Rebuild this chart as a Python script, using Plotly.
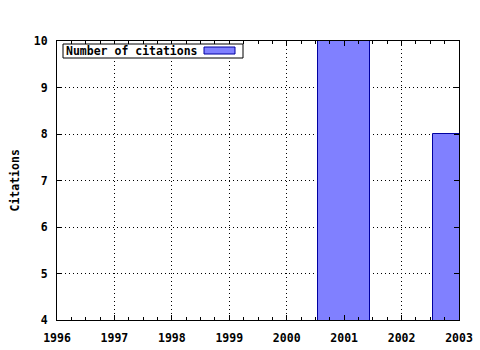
import plotly.graph_objects as go

years = [2001, 2003]
citations = [10, 8]
x_ticks = [1996, 1997, 1998, 1999, 2000, 2001, 2002, 2003]
y_ticks = [4, 5, 6, 7, 8, 9, 10]
series_name = "Number of citations"
y_title = "Citations"

FONT = dict(family="DejaVu Sans Mono, Liberation Mono, monospace", size=11.5, color="black", weight="bold")

fig = go.Figure()
fig.add_trace(go.Bar(
    x=years, y=citations, width=0.9, name=series_name,
    marker=dict(color="#8080ff", line=dict(color="#0000a0", width=1)),
    showlegend=False, cliponaxis=True,
))

L, R, T, B = 57, 21, 41, 30
W, H = 480, 350
pw, ph = W - L - R, H - T - B

def px(x):
    return (x - L) / pw

def py(y):
    return (H - B - y) / ph

fig.update_layout(
    width=W, height=H,
    margin=dict(l=L, r=R, t=T, b=B, pad=0, autoexpand=False),
    paper_bgcolor="white", plot_bgcolor="white",
    font=FONT,
    bargap=0,
    xaxis=dict(
        range=[1996, 2003], tickvals=x_ticks, ticktext=[str(v) for v in x_ticks],
        showline=True, linecolor="black", linewidth=1, mirror="allticks",
        ticks="inside", ticklen=5, tickcolor="black",
        showgrid=True, gridcolor="black", griddash="1px,3px", gridwidth=1,
        minor=dict(dtick=0.25, ticks="inside", ticklen=3, tickcolor="black", showgrid=False),
        zeroline=False, ticklabelstandoff=7, automargin=False,
        tickfont=FONT,
    ),
    yaxis=dict(
        range=[4, 10], tickvals=y_ticks,
        showline=True, linecolor="black", linewidth=1, mirror="allticks",
        ticks="inside", ticklen=5, tickcolor="black",
        showgrid=True, gridcolor="black", griddash="1px,3px", gridwidth=1,
        zeroline=False, ticklabelstandoff=6, automargin=False,
        tickfont=FONT,
    ),
    annotations=[
        dict(text=y_title, xref="paper", yref="paper", x=px(14), y=0.5, textangle=-90,
             showarrow=False, font=FONT, xanchor="center", yanchor="middle"),
        dict(text=series_name, xref="paper", yref="paper", x=px(64), y=py(51),
             showarrow=False, font=FONT, xanchor="left", yanchor="middle"),
    ],
    shapes=[
        dict(type="rect", xref="paper", yref="paper", x0=px(63), x1=px(243), y0=py(58), y1=py(44),
             line=dict(color="black", width=1), fillcolor="white", layer="above"),
        dict(type="rect", xref="paper", yref="paper", x0=px(204), x1=px(235), y0=py(54), y1=py(47),
             line=dict(color="#0000a0", width=1), fillcolor="#8080ff", layer="above"),
    ],
)

fig.write_html("out.html")
